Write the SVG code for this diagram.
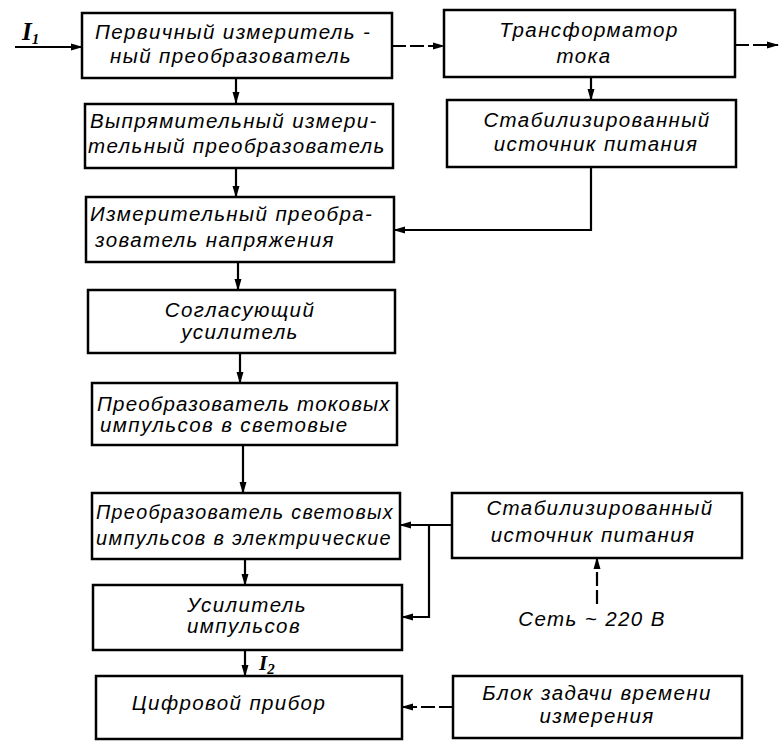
<svg xmlns="http://www.w3.org/2000/svg" width="780" height="742" viewBox="0 0 780 742">
<defs>
<style>
.box{fill:#fff;stroke:#000;stroke-width:2.5}
.ln{fill:none;stroke:#000;stroke-width:2.2}
.dash{fill:none;stroke:#000;stroke-width:2.2;stroke-dasharray:14 4}
text{font-family:"Liberation Sans","DejaVu Sans",sans-serif;font-style:italic;font-size:20.5px;fill:#000;letter-spacing:1.4px}
.c{text-anchor:middle}
.lbl{font-family:"Liberation Serif",serif;font-weight:bold;font-size:25px;letter-spacing:0}
.sub{font-size:15px}
</style>
<marker id="ah" markerUnits="userSpaceOnUse" markerWidth="12" markerHeight="8" refX="11" refY="4" orient="auto">
<path d="M0,0.5 L12,4 L0,7.5 Z" fill="#000"/>
</marker>
</defs>
<rect width="780" height="742" fill="#fff"/>

<g id="connectors">
<path class="ln" d="M15,47 H82" marker-end="url(#ah)"/>
<path class="dash" d="M392,46 H444" marker-end="url(#ah)"/>
<path class="dash" d="M735,45 H778" marker-end="url(#ah)"/>
<path class="ln" d="M236,78 V103" marker-end="url(#ah)"/>
<path class="ln" d="M591,77 V100" marker-end="url(#ah)"/>
<path class="ln" d="M236,168 V197" marker-end="url(#ah)"/>
<path class="ln" d="M591,167 V230 H394" marker-end="url(#ah)"/>
<path class="ln" d="M238,262 V290" marker-end="url(#ah)"/>
<path class="ln" d="M240,353 V383" marker-end="url(#ah)"/>
<path class="ln" d="M243,445 V493" marker-end="url(#ah)"/>
<path class="ln" d="M245,559 V585" marker-end="url(#ah)"/>
<path class="ln" d="M245,650 V676" marker-end="url(#ah)"/>
<path class="ln" d="M452,525 H400" marker-end="url(#ah)"/>
<path class="ln" d="M429,525 V617 H402" marker-end="url(#ah)"/>
<path class="dash" d="M597,604 V558" marker-end="url(#ah)"/>
<path class="dash" d="M453,707 H402" marker-end="url(#ah)"/>
</g>

<g id="lbl-i1"><text class="lbl" x="22" y="40">I<tspan class="sub" dy="4">1</tspan></text></g>
<g id="lbl-i2"><text class="lbl" x="259" y="670" style="font-size:21px">I<tspan class="sub" dy="4">2</tspan></text></g>

<g id="n1">
<rect class="box" x="82" y="13" width="310" height="65"/>
<text x="95" y="39">Первичный измеритель -</text>
<text x="110" y="63">ный преобразователь</text>
</g>
<g id="n2">
<rect class="box" x="85" y="104" width="308" height="64"/>
<text x="90" y="128">Выпрямительный измери-</text>
<text x="88" y="153">тельный преобразователь</text>
</g>
<g id="n3">
<rect class="box" x="86" y="197" width="308" height="65"/>
<text x="90" y="221">Измерительный преобра-</text>
<text x="95" y="247">зователь напряжения</text>
</g>
<g id="n4">
<rect class="box" x="88" y="290" width="307" height="63"/>
<text class="c" x="240" y="317">Согласующий</text>
<text class="c" x="240" y="339">усилитель</text>
</g>
<g id="n5">
<rect class="box" x="92" y="383" width="305" height="62"/>
<text x="97" y="411" textLength="294" lengthAdjust="spacing">Преобразователь токовых</text>
<text x="100" y="432">импульсов в световые</text>
</g>
<g id="n6">
<rect class="box" x="92" y="493" width="308" height="66"/>
<text x="96" y="519" textLength="298" lengthAdjust="spacingAndGlyphs">Преобразователь световых</text>
<text x="96" y="545" textLength="296" lengthAdjust="spacingAndGlyphs">импульсов в электрические</text>
</g>
<g id="n7">
<rect class="box" x="93" y="585" width="309" height="65"/>
<text class="c" x="247" y="612">Усилитель</text>
<text class="c" x="244" y="633">импульсов</text>
</g>
<g id="n8">
<rect class="box" x="96" y="676" width="306" height="63"/>
<text class="c" x="229" y="710">Цифровой прибор</text>
</g>
<g id="n9">
<rect class="box" x="444" y="10" width="291" height="67"/>
<text class="c" x="589" y="37">Трансформатор</text>
<text class="c" x="584" y="63">тока</text>
</g>
<g id="n10">
<rect class="box" x="447" y="100" width="289" height="67"/>
<text class="c" x="597" y="127">Стабилизированный</text>
<text class="c" x="596" y="151">источник питания</text>
</g>
<g id="n11">
<rect class="box" x="452" y="493" width="290" height="65"/>
<text class="c" x="600" y="515">Стабилизированный</text>
<text class="c" x="593" y="542">источник питания</text>
</g>
<g id="n12">
<rect class="box" x="453" y="676" width="289" height="62"/>
<text class="c" x="597" y="700">Блок задачи времени</text>
<text class="c" x="597" y="723">измерения</text>
</g>
<g id="lbl-net"><text class="c" x="592" y="626">Сеть ~ 220 В</text></g>
</svg>
